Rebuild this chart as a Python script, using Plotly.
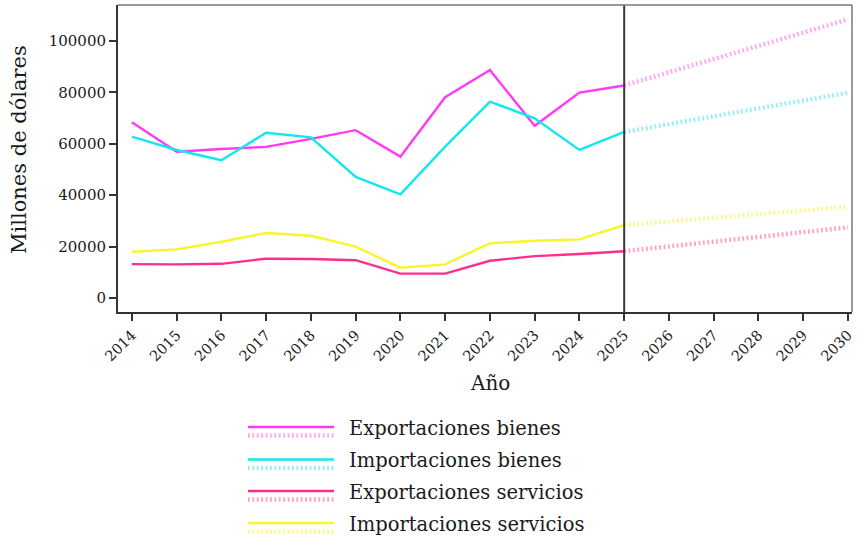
import plotly.graph_objects as go

# Historical series (millions of dollars), 2014-2025
years = list(range(2014, 2026))
exp_bienes = [68400, 56900, 58000, 58800, 61900, 65300, 55000, 78100, 88700, 67000, 79900, 82700]
imp_bienes = [62800, 57600, 53600, 64300, 62500, 47100, 40300, 58900, 76400, 69900, 57600, 64600]
exp_servicios = [13200, 13100, 13300, 15300, 15200, 14700, 9500, 9500, 14500, 16300, 17100, 18200]
imp_servicios = [18000, 18900, 21900, 25300, 24200, 20000, 11800, 13100, 21300, 22300, 22800, 28400]

# Projection endpoints, 2025 -> 2030
proj_years = [2025, 2030]
exp_bienes_proj = [82700, 108400]
imp_bienes_proj = [64600, 79900]
exp_servicios_proj = [18200, 27500]
imp_servicios_proj = [28400, 35500]

names = ["Exportaciones bienes", "Importaciones bienes",
         "Exportaciones servicios", "Importaciones servicios"]
colors = ["#ff3af2", "#14e6ee", "#ff2e8c", "#f8f52a"]
light = ["rgba(255,130,240,0.7)", "rgba(100,232,242,0.7)",
         "rgba(255,120,175,0.7)", "rgba(248,245,90,0.7)"]
hist = [exp_bienes, imp_bienes, exp_servicios, imp_servicios]
proj = [exp_bienes_proj, imp_bienes_proj, exp_servicios_proj, imp_servicios_proj]

FONT = "DejaVu Serif"
DOT = "1.8px,2.6px"

fig = go.Figure()
for name, c, lc, h, p in zip(names, colors, light, hist, proj):
    fig.add_trace(go.Scatter(x=years, y=h, mode="lines", name=name,
                             line=dict(color=c, width=2.4), showlegend=False))
    fig.add_trace(go.Scatter(x=proj_years, y=p, mode="lines", name=name + " (proy.)",
                             line=dict(color=lc, width=4.5, dash=DOT), showlegend=False))

# plot area in pixels
L, R, T, B = 118, 852, 5, 312
W, H = 864, 538


def px(x, y):
    return (x - L) / (R - L), (B - y) / (B - T)


shapes = []
# divider between observed and projected years
shapes.append(dict(type="line", xref="x", yref="paper", x0=2025, x1=2025, y0=0, y1=1,
                   line=dict(color="#3a3a3a", width=2)))
# top and right frame
shapes.append(dict(type="line", xref="paper", yref="paper", x0=0, x1=1, y0=1, y1=1,
                   line=dict(color="#777777", width=1.5)))
shapes.append(dict(type="line", xref="paper", yref="paper", x0=1, x1=1, y0=0, y1=1,
                   line=dict(color="#777777", width=1.5)))

annotations = []
# custom legend: solid sample over dotted sample, then label
rows = [427, 459.5, 491, 523]
for name, c, lc, yr in zip(names, colors, light, rows):
    x0, y0 = px(248, yr)
    x1, _ = px(334, yr)
    shapes.append(dict(type="line", xref="paper", yref="paper", x0=x0, x1=x1, y0=y0, y1=y0,
                       line=dict(color=c, width=2.5)))
    _, yd = px(248, yr + 8.5)
    shapes.append(dict(type="line", xref="paper", yref="paper", x0=x0, x1=x1, y0=yd, y1=yd,
                       line=dict(color=lc, width=4.5, dash=DOT)))
    tx, ty = px(347, yr + 1)
    annotations.append(dict(text=name, xref="paper", yref="paper", x=tx, y=ty,
                            xanchor="left", yanchor="middle", showarrow=False,
                            font=dict(family=FONT, size=19.5, color="#1a1a1a")))

# axis titles
ax, ay = px(490, 383)
annotations.append(dict(text="Año", xref="paper", yref="paper", x=ax, y=ay,
                        xanchor="center", yanchor="middle", showarrow=False,
                        font=dict(family=FONT, size=20, color="#1a1a1a")))
yx, yy = px(19, 150)
annotations.append(dict(text="Millones de dólares", xref="paper", yref="paper", x=yx, y=yy,
                        xanchor="center", yanchor="middle", showarrow=False, textangle=-90,
                        font=dict(family=FONT, size=21, color="#1a1a1a")))

fig.update_layout(
    width=W, height=H,
    margin=dict(l=L, r=W - R, t=T, b=H - B),
    paper_bgcolor="white", plot_bgcolor="white",
    shapes=shapes, annotations=annotations,
    font=dict(family=FONT, color="#1a1a1a"),
)
fig.update_xaxes(range=[2013.69, 2030.09], tickmode="array", tickvals=list(range(2014, 2031)),
                 ticktext=[str(y) for y in range(2014, 2031)], tickangle=-45,
                 ticks="outside", ticklen=7, tickwidth=1.5, tickcolor="#333333",
                 showline=True, linecolor="#333333", linewidth=2, showgrid=False, zeroline=False,
                 tickfont=dict(family=FONT, size=14.5, color="#1a1a1a"))
fig.update_yaxes(range=[-5447, 114008], tickvals=[0, 20000, 40000, 60000, 80000, 100000],
                 ticktext=["0", "20000", "40000", "60000", "80000", "100000"],
                 ticks="outside", ticklen=7, tickwidth=1.5, tickcolor="#333333",
                 showline=True, linecolor="#333333", linewidth=2, showgrid=False, zeroline=False,
                 tickfont=dict(family=FONT, size=15, color="#1a1a1a"))

fig.write_html("out.html")
